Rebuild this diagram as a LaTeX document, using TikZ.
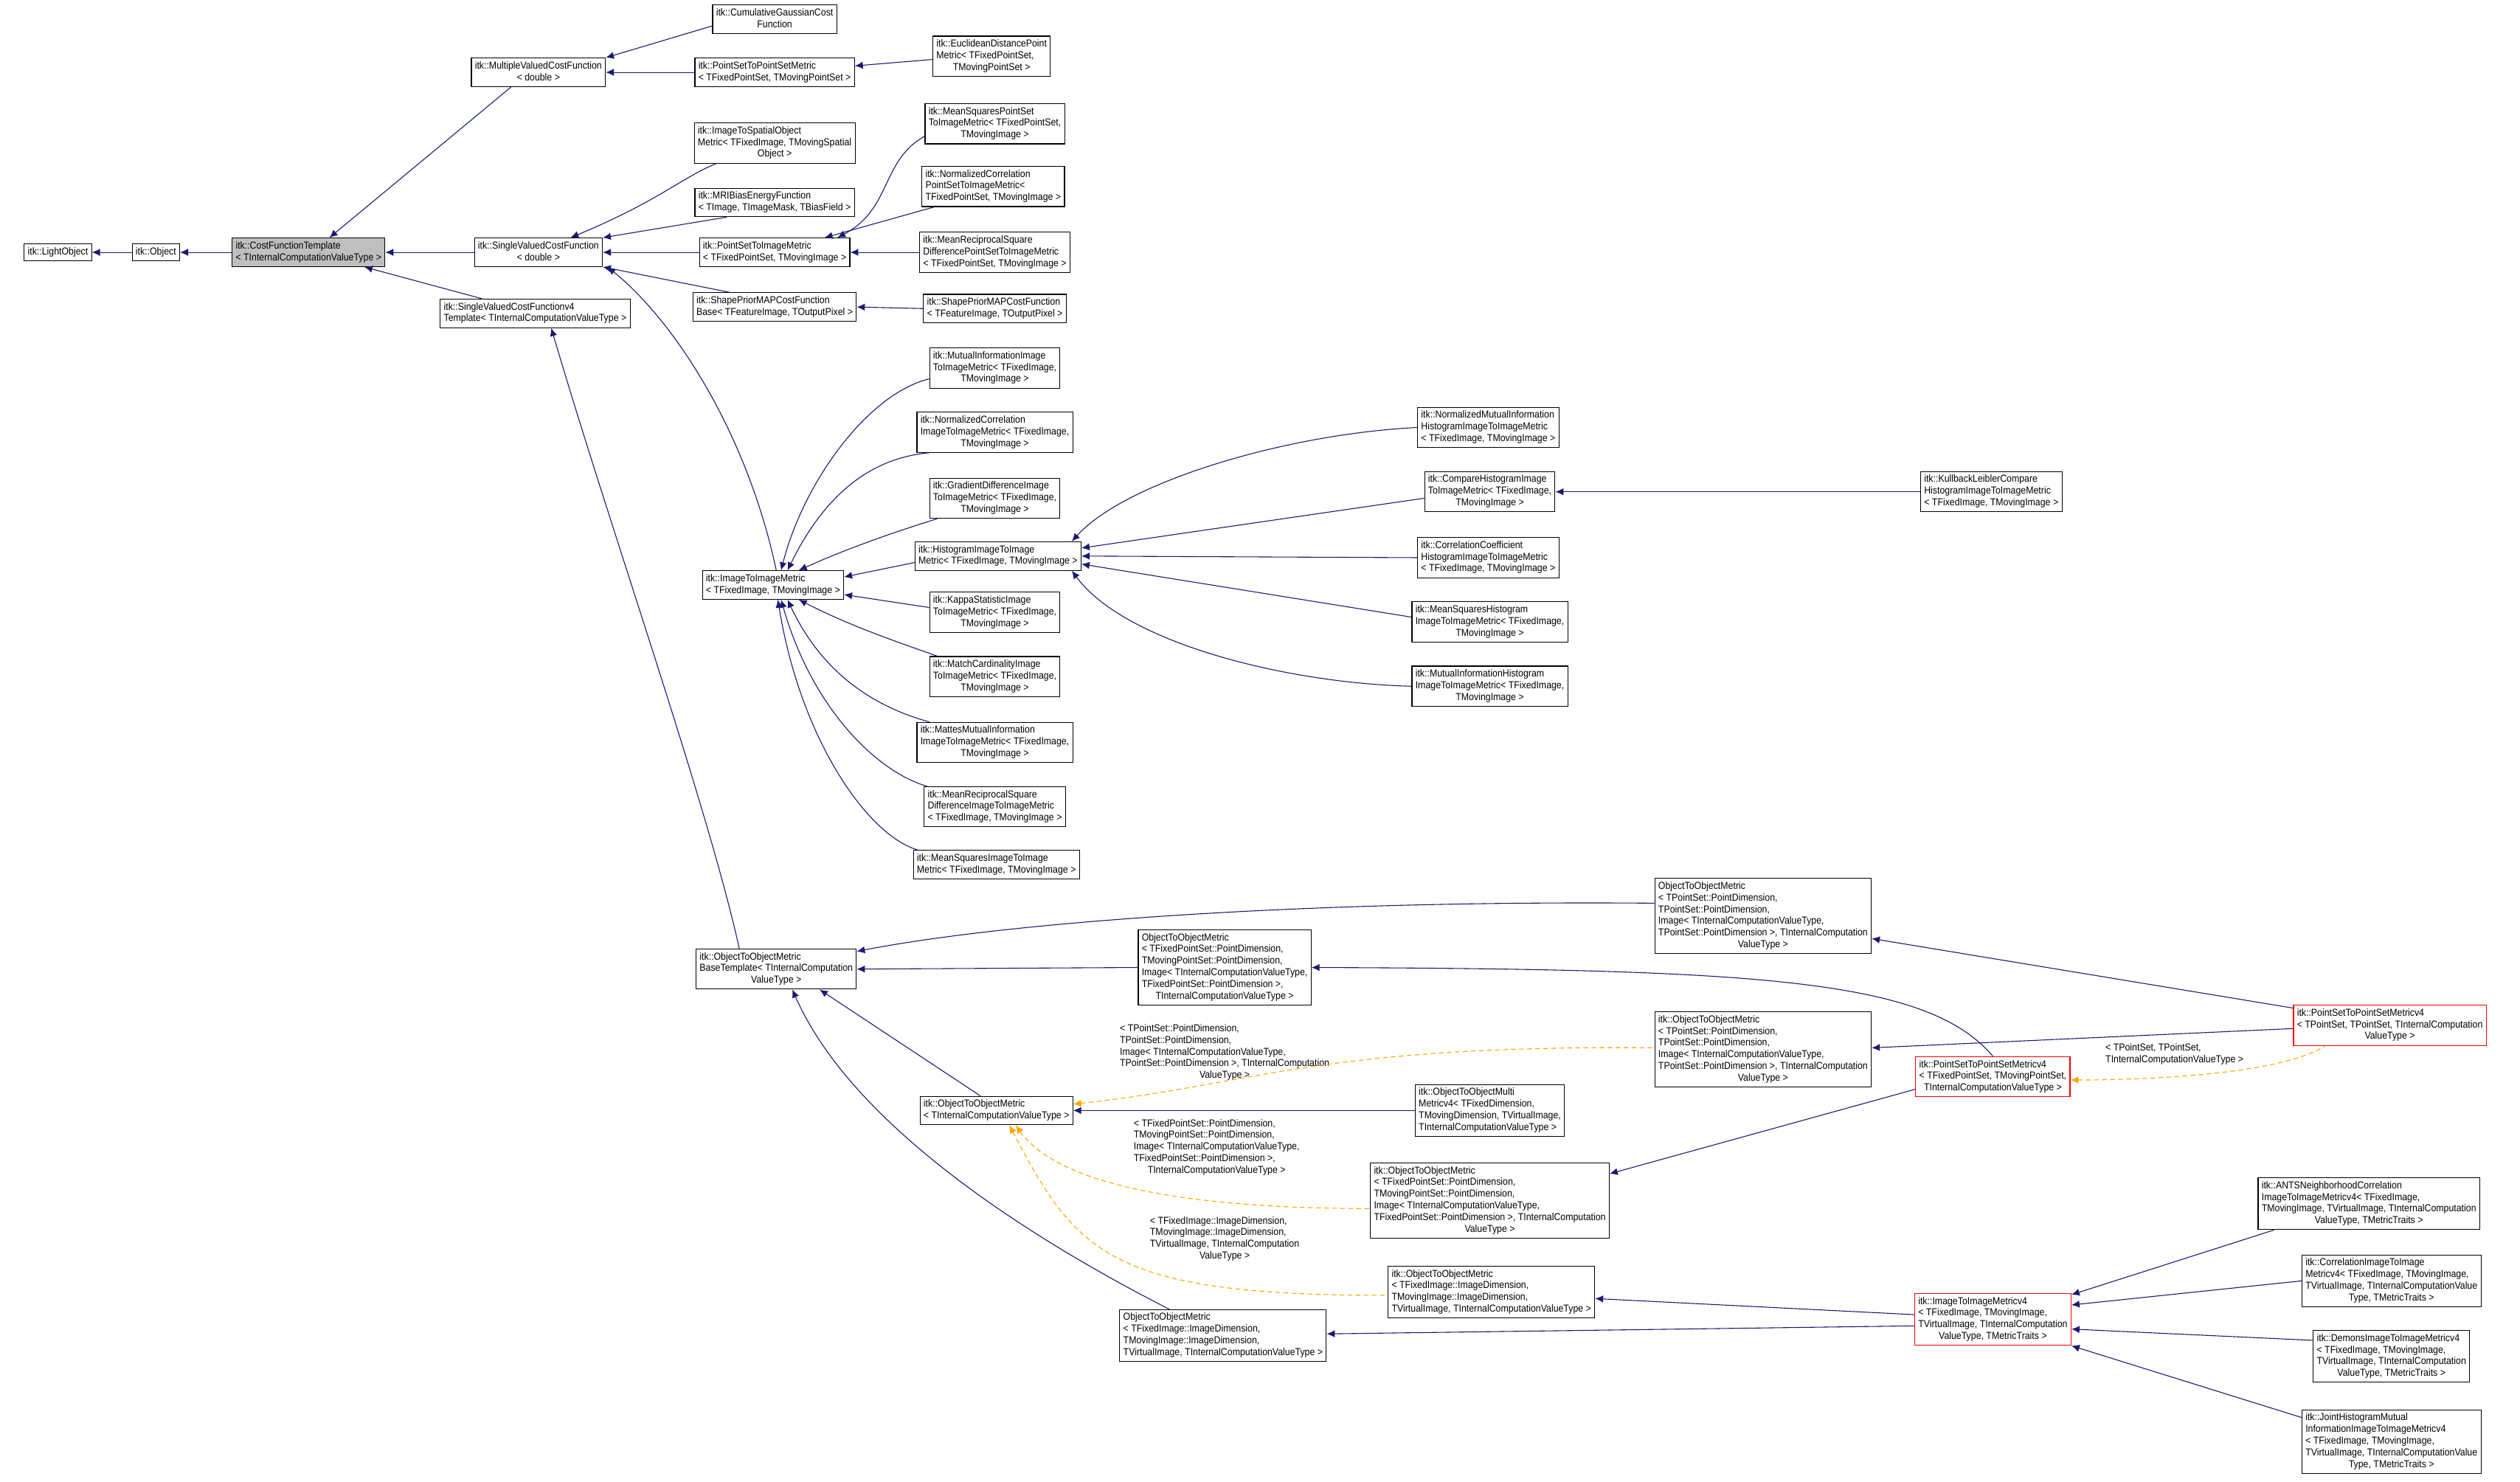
\documentclass[tikz,border=0pt]{standalone}
\usepackage{fontspec}
\setmainfont{Liberation Sans}[FakeStretch=0.9]
\usetikzlibrary{arrows.meta,calc}
\definecolor{navyc}{HTML}{191970}
\definecolor{orangec}{HTML}{FFA500}
\newcommand\tb[1]{\begin{tabular}{@{}l@{}}#1\end{tabular}}
\newcommand\cl[1]{\multicolumn{1}{@{}c@{}}{#1}}
\tikzset{
  box/.style={draw=black,line width=0.5pt,fill=white,inner xsep=2.2pt,inner ysep=1.6pt,font=\fontsize{6.3}{7.9}\selectfont},
  redbox/.style={box,draw=red},
  lbl/.style={inner sep=0pt,font=\fontsize{6.3}{7.9}\selectfont},
  inh/.style={draw=navyc,line width=0.5pt,{Latex[length=5pt,width=4.5pt]}-},
  dep/.style={draw=orangec,line width=0.5pt,dashed,dash pattern=on 3pt off 2pt,{Latex[length=5pt,width=4.5pt]}-},
}
\renewcommand\arraystretch{0.92}
\begin{document}
\begin{tikzpicture}[x=1pt,y=-1pt]
\useasboundingbox (0,0) rectangle (1568,922);
% nodes
\node[box] (light) at (36,157) {\tb{itk::LightObject}};
\node[box] (obj) at (97,157) {\tb{itk::Object}};
\node[box,fill=black!25] (cft) at (192,157) {\tb{itk::CostFunctionTemplate\\\cl{< TInternalComputationValueType >}}};
\node[box] (mvcf) at (335,45) {\tb{itk::MultipleValuedCostFunction\\\cl{< double >}}};
\node[box] (cgcf) at (482,12) {\tb{itk::CumulativeGaussianCost\\\cl{Function}}};
\node[box] (pstpsm) at (482,45) {\tb{itk::PointSetToPointSetMetric\\< TFixedPointSet, TMovingPointSet >}};
\node[box] (edpm) at (617,35) {\tb{itk::EuclideanDistancePoint\\Metric< TFixedPointSet,\\\cl{TMovingPointSet >}}};
\node[box] (svcf) at (335,157) {\tb{itk::SingleValuedCostFunction\\\cl{< double >}}};
\node[box] (svcf4) at (333,195) {\tb{itk::SingleValuedCostFunctionv4\\Template< TInternalComputationValueType >}};
\node[box] (itso) at (482,89) {\tb{itk::ImageToSpatialObject\\Metric< TFixedImage, TMovingSpatial\\\cl{Object >}}};
\node[box] (mri) at (482,126) {\tb{itk::MRIBiasEnergyFunction\\< TImage, TImageMask, TBiasField >}};
\node[box] (pstim) at (482,157) {\tb{itk::PointSetToImageMetric\\< TFixedPointSet, TMovingImage >}};
\node[box] (msps) at (619,77) {\tb{itk::MeanSquaresPointSet\\ToImageMetric< TFixedPointSet,\\\cl{TMovingImage >}}};
\node[box] (ncps) at (618,116) {\tb{itk::NormalizedCorrelation\\PointSetToImageMetric<\\\cl{TFixedPointSet, TMovingImage >}}};
\node[box] (mrps) at (619,157) {\tb{itk::MeanReciprocalSquare\\DifferencePointSetToImageMetric\\< TFixedPointSet, TMovingImage >}};
\node[box] (spb) at (482,191) {\tb{itk::ShapePriorMAPCostFunction\\Base< TFeatureImage, TOutputPixel >}};
\node[box] (sp) at (619,192) {\tb{itk::ShapePriorMAPCostFunction\\< TFeatureImage, TOutputPixel >}};
\node[box] (itoi) at (481,364) {\tb{itk::ImageToImageMetric\\< TFixedImage, TMovingImage >}};
\node[box] (mi) at (619,229) {\tb{itk::MutualInformationImage\\ToImageMetric< TFixedImage,\\\cl{TMovingImage >}}};
\node[box] (nc) at (619,269) {\tb{itk::NormalizedCorrelation\\ImageToImageMetric< TFixedImage,\\\cl{TMovingImage >}}};
\node[box] (gd) at (619,310) {\tb{itk::GradientDifferenceImage\\ToImageMetric< TFixedImage,\\\cl{TMovingImage >}}};
\node[box] (hist) at (621,346) {\tb{itk::HistogramImageToImage\\Metric< TFixedImage, TMovingImage >}};
\node[box] (kap) at (619,381) {\tb{itk::KappaStatisticImage\\ToImageMetric< TFixedImage,\\\cl{TMovingImage >}}};
\node[box] (mc) at (619,421) {\tb{itk::MatchCardinalityImage\\ToImageMetric< TFixedImage,\\\cl{TMovingImage >}}};
\node[box] (mat) at (619,462) {\tb{itk::MattesMutualInformation\\ImageToImageMetric< TFixedImage,\\\cl{TMovingImage >}}};
\node[box] (mrsd) at (619,502) {\tb{itk::MeanReciprocalSquare\\DifferenceImageToImageMetric\\< TFixedImage, TMovingImage >}};
\node[box] (ms) at (620,538) {\tb{itk::MeanSquaresImageToImage\\Metric< TFixedImage, TMovingImage >}};
\node[box] (nmih) at (926,266) {\tb{itk::NormalizedMutualInformation\\HistogramImageToImageMetric\\< TFixedImage, TMovingImage >}};
\node[box] (chist) at (927,306) {\tb{itk::CompareHistogramImage\\ToImageMetric< TFixedImage,\\\cl{TMovingImage >}}};
\node[box] (kl) at (1239,306) {\tb{itk::KullbackLeiblerCompare\\HistogramImageToImageMetric\\< TFixedImage, TMovingImage >}};
\node[box] (cch) at (926,347) {\tb{itk::CorrelationCoefficient\\HistogramImageToImageMetric\\< TFixedImage, TMovingImage >}};
\node[box] (msh) at (927,387) {\tb{itk::MeanSquaresHistogram\\ImageToImageMetric< TFixedImage,\\\cl{TMovingImage >}}};
\node[box] (mih) at (927,427) {\tb{itk::MutualInformationHistogram\\ImageToImageMetric< TFixedImage,\\\cl{TMovingImage >}}};
\node[box] (otob) at (483,603) {\tb{itk::ObjectToObjectMetric\\BaseTemplate< TInternalComputation\\\cl{ValueType >}}};
\node[box] (o35) at (762,602) {\tb{ObjectToObjectMetric\\< TFixedPointSet::PointDimension,\\ TMovingPointSet::PointDimension,\\ Image< TInternalComputationValueType,\\ TFixedPointSet::PointDimension >,\\\cl{TInternalComputationValueType >}}};
\node[box] (o36) at (1097,570) {\tb{ObjectToObjectMetric\\< TPointSet::PointDimension,\\ TPointSet::PointDimension,\\ Image< TInternalComputationValueType,\\ TPointSet::PointDimension >, TInternalComputation\\\cl{ValueType >}}};
\node[box] (o37) at (1097,653) {\tb{itk::ObjectToObjectMetric\\< TPointSet::PointDimension,\\ TPointSet::PointDimension,\\ Image< TInternalComputationValueType,\\ TPointSet::PointDimension >, TInternalComputation\\\cl{ValueType >}}};
\node[redbox] (ps4a) at (1487,638) {\tb{itk::PointSetToPointSetMetricv4\\< TPointSet, TPointSet, TInternalComputation\\\cl{ValueType >}}};
\node[redbox] (ps4b) at (1240,670) {\tb{itk::PointSetToPointSetMetricv4\\< TFixedPointSet, TMovingPointSet,\\\cl{TInternalComputationValueType >}}};
\node[box] (otom) at (620,691) {\tb{itk::ObjectToObjectMetric\\< TInternalComputationValueType >}};
\node[box] (multi) at (927,691) {\tb{itk::ObjectToObjectMulti\\Metricv4< TFixedDimension,\\ TMovingDimension, TVirtualImage,\\ TInternalComputationValueType >}};
\node[box] (o42) at (927,747) {\tb{itk::ObjectToObjectMetric\\< TFixedPointSet::PointDimension,\\ TMovingPointSet::PointDimension,\\ Image< TInternalComputationValueType,\\ TFixedPointSet::PointDimension >, TInternalComputation\\\cl{ValueType >}}};
\node[box] (o43) at (928,804) {\tb{itk::ObjectToObjectMetric\\< TFixedImage::ImageDimension,\\ TMovingImage::ImageDimension,\\ TVirtualImage, TInternalComputationValueType >}};
\node[box] (o44) at (761,831) {\tb{ObjectToObjectMetric\\< TFixedImage::ImageDimension,\\ TMovingImage::ImageDimension,\\ TVirtualImage, TInternalComputationValueType >}};
\node[redbox] (i4) at (1240,821) {\tb{itk::ImageToImageMetricv4\\< TFixedImage, TMovingImage,\\ TVirtualImage, TInternalComputation\\\cl{ValueType, TMetricTraits >}}};
\node[box] (ants) at (1474,749) {\tb{itk::ANTSNeighborhoodCorrelation\\ImageToImageMetricv4< TFixedImage,\\ TMovingImage, TVirtualImage, TInternalComputation\\\cl{ValueType, TMetricTraits >}}};
\node[box] (corr4) at (1488,797) {\tb{itk::CorrelationImageToImage\\Metricv4< TFixedImage, TMovingImage,\\ TVirtualImage, TInternalComputationValue\\\cl{Type, TMetricTraits >}}};
\node[box] (dem4) at (1488,844) {\tb{itk::DemonsImageToImageMetricv4\\< TFixedImage, TMovingImage,\\ TVirtualImage, TInternalComputation\\\cl{ValueType, TMetricTraits >}}};
\node[box] (jh4) at (1488,897) {\tb{itk::JointHistogramMutual\\InformationImageToImageMetricv4\\< TFixedImage, TMovingImage,\\ TVirtualImage, TInternalComputationValue\\\cl{Type, TMetricTraits >}}};
% labels
\node[lbl] (l1) at (762,655) {\tb{< TPointSet::PointDimension,\\TPointSet::PointDimension,\\Image< TInternalComputationValueType,\\TPointSet::PointDimension >, TInternalComputation\\\cl{ValueType >}}};
\node[lbl] (l2) at (757,714) {\tb{< TFixedPointSet::PointDimension,\\TMovingPointSet::PointDimension,\\Image< TInternalComputationValueType,\\TFixedPointSet::PointDimension >,\\\cl{TInternalComputationValueType >}}};
\node[lbl] (l3) at (762,771) {\tb{< TFixedImage::ImageDimension,\\TMovingImage::ImageDimension,\\TVirtualImage, TInternalComputation\\\cl{ValueType >}}};
\node[lbl] (l4) at (1353,656) {\tb{< TPointSet, TPointSet,\\TInternalComputationValueType >}};
% edges
\draw[inh] (light.east) -- (obj.west);
\draw[inh] (obj.east) -- (cft.west);
\draw[inh] ($(cft.north)+(13,0)$) -- ($(mvcf.south)+(-17,0)$);
\draw[inh] (cft.east) -- (svcf.west);
\draw[inh] ($(cft.south east)+(-13,0)$) -- ($(svcf4.north)+(-33,0)$);
\draw[inh] (mvcf.north east) -- ($(cgcf.south west)+(0,-5)$);
\draw[inh] (mvcf.east) -- (pstpsm.west);
\draw[inh] ($(pstpsm.east)+(0,-4)$) -- ($(edpm.west)+(0,2)$);
\draw[inh] ($(svcf.north)+(20,0)$) .. controls (410,125) and (425,110) .. ($(itso.south west)+(14,0)$);
\draw[inh] (svcf.north east) -- ($(mri.south west)+(20,0)$);
\draw[inh] (svcf.east) -- (pstim.west);
\draw[inh] (svcf.south east) -- ($(spb.north west)+(23,0)$);
\draw[inh] ($(svcf.south east)+(3,0)$) .. controls (420,200) and (465,270) .. ($(itoi.north)+(2,0)$);
\draw[inh] ($(pstim.north east)+(-8,0)$) .. controls (555,130) and (548,100) .. ($(msps.south west)+(0,-5)$);
\draw[inh] ($(pstim.north east)+(-16,0)$) -- ($(ncps.south west)+(8,0)$);
\draw[inh] (pstim.east) -- (mrps.west);
\draw[inh] (spb.east) -- (sp.west);
\draw[inh] ($(itoi.north)+(5,0)$) .. controls (500,300) and (540,245) .. ($(mi.south west)+(0,-6)$);
\draw[inh] ($(itoi.north)+(9,0)$) .. controls (512,310) and (540,285) .. ($(nc.south west)+(8,0)$);
\draw[inh] ($(itoi.north)+(16,0)$) .. controls (530,340) and (560,330) .. ($(gd.south west)+(5,0)$);
\draw[inh] ($(itoi.east)+(0,-5)$) -- ($(hist.west)+(0,4)$);
\draw[inh] ($(itoi.east)+(0,6)$) -- ($(kap.west)+(0,-3)$);
\draw[inh] ($(itoi.south)+(16,0)$) .. controls (530,390) and (560,400) .. ($(mc.north west)+(5,0)$);
\draw[inh] ($(itoi.south)+(9,0)$) .. controls (512,420) and (545,440) .. ($(mat.north west)+(8,0)$);
\draw[inh] ($(itoi.south)+(5,0)$) .. controls (505,440) and (545,480) .. ($(mrsd.north west)+(2,0)$);
\draw[inh] ($(itoi.south)+(3,0)$) .. controls (498,460) and (540,520) .. ($(ms.north west)+(3,0)$);
\draw[inh] ($(hist.north east)+(-6,0)$) .. controls (700,300) and (800,270) .. ($(nmih.west)+(0,0)$);
\draw[inh] ($(hist.east)+(0,-5)$) -- ($(chist.west)+(0,4)$);
\draw[inh] (hist.east) -- (cch.west);
\draw[inh] ($(hist.east)+(0,5)$) -- ($(msh.west)+(0,-3)$);
\draw[inh] ($(hist.south east)+(-6,0)$) .. controls (700,400) and (800,425) .. (mih.west);
\draw[inh] (chist.east) -- (kl.west);
\draw[inh] ($(svcf4.south)+(10,0)$) .. controls (380,330) and (440,500) .. ($(otob.north)+(-23,0)$);
\draw[inh] ($(otob.east)+(0,-11)$) .. controls (620,575) and (800,560) .. ($(o36.west)+(0,-8)$);
\draw[inh] (otob.east) -- (o35.west);
\draw[inh] ($(otob.south)+(27,0)$) -- ($(otom.north)+(-10,0)$);
\draw[inh] ($(otob.south)+(10,0)$) .. controls (530,700) and (640,770) .. ($(o44.north west)+(31,0)$);
\draw[inh] ($(o36.east)+(0,14)$) -- ($(ps4a.north west)+(0,2)$);
\draw[inh] ($(o37.east)+(0,-1)$) -- ($(ps4a.west)+(0,2)$);
\draw[inh] (o35.east) .. controls (1100,603) and (1200,610) .. (ps4b.north);
\draw[inh] ($(o42.north east)+(0,7)$) -- ($(ps4b.south west)+(0,-5)$);
\draw[inh] (otom.east) -- (multi.west);
\draw[inh] ($(o43.east)+(0,4)$) -- ($(i4.west)+(0,-3)$);
\draw[inh] ($(o44.east)+(0,-1)$) -- ($(i4.west)+(0,4)$);
\draw[inh] ($(i4.north east)+(0,1)$) -- ($(ants.south west)+(10,0)$);
\draw[inh] ($(i4.east)+(0,-9)$) -- (corr4.west);
\draw[inh] ($(i4.east)+(0,6)$) -- ($(dem4.west)+(0,-10)$);
\draw[inh] (i4.south east) -- ($(jh4.west)+(0,-15)$);
\draw[dep] ($(otom.east)+(0,-4)$) .. controls (780,675) and (820,650) .. ($(o37.west)+(0,-1)$);
\draw[dep] ($(otom.south)+(12,0)$) .. controls (660,740) and (750,752) .. ($(o42.west)+(0,5)$);
\draw[dep] ($(otom.south)+(8,0)$) .. controls (670,780) and (690,806) .. ($(o43.west)+(0,2)$);
\draw[dep] ($(ps4b.east)+(0,2)$) .. controls (1340,672) and (1420,668) .. ($(ps4a.south west)+(20,0)$);
\end{tikzpicture}
\end{document}
